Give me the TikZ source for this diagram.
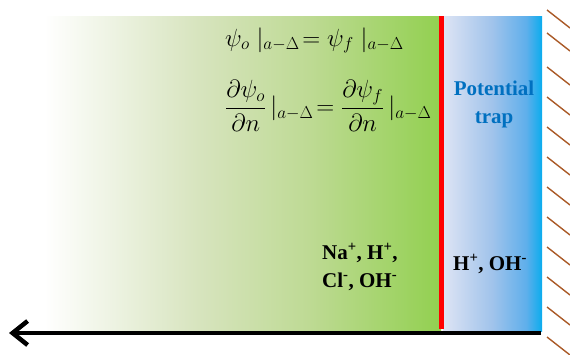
\documentclass[tikz,border=0pt]{standalone}
\usepackage{amsmath}
\usepackage{fontspec}
\setmainfont{Liberation Serif}
\usepackage{xcolor}
\usepackage{tikz}
\usetikzlibrary{arrows.meta,positioning,calc}
\definecolor{trapblue}{RGB}{0,112,192}
\definecolor{wallbrown}{RGB}{170,90,40}
\definecolor{leafgreen}{RGB}{146,208,80}
\pgfdeclarehorizontalshading{solfade}{100bp}{%
  color(0bp)=(white); color(25bp)=(white); color(30bp)=(white);
  color(47.5bp)=(rgb,255:red,215;green,228;blue,190);
  color(60bp)=(rgb,255:red,190;green,218;blue,148);
  color(75bp)=(leafgreen); color(100bp)=(leafgreen)}
\pgfdeclarehorizontalshading{trapfade}{100bp}{%
  color(0bp)=(rgb,255:red,222;green,228;blue,244);
  color(25bp)=(rgb,255:red,222;green,228;blue,244);
  color(50bp)=(rgb,255:red,160;green,195;blue,235);
  color(67bp)=(rgb,255:red,95;green,175;blue,235);
  color(75bp)=(rgb,255:red,10;green,172;blue,238);
  color(100bp)=(rgb,255:red,10;green,172;blue,238)}

\begin{document}
\begin{tikzpicture}[x=1pt, y=-1pt, font=\fontsize{20}{24}\selectfont, node distance=2pt,
    ions/.style={font=\fontsize{21}{28}\selectfont\bfseries, inner sep=0pt, align=left},
    eqn/.style={inner sep=0pt}]
  \useasboundingbox (0,0) rectangle (570,354);
  % solution and trap layers
  \path[shading=solfade] (0,16) rectangle (441,331);
  \path[shading=trapfade] (443,16) rectangle (542,331);
  \draw[red, line width=5pt] (441.5,16) -- (441.5,329);
  % wall
  \foreach \y in {10,33,67,97,127,157,187,217,247,277,307,337}
    \draw[wallbrown, line width=1.4pt] (547,\y) -- (570,\y+18);
  % axis
  \coordinate (axisR) at (541,333);
  \coordinate (axisL) at (9,333);
  \draw[line width=4.5pt, -{Straight Barb[length=15pt, width=24pt]}] (axisR) -- (axisL);
  % boundary conditions
  \node (bc1) [eqn, font=\fontsize{23.5}{28}\selectfont, anchor=base west] at (225,46)
    {$\psi_o\;|_{a-\Delta}\!=\psi_f\;|_{a-\Delta}$};
  \node (bc2) [eqn, font=\fontsize{25.5}{30}\selectfont, anchor=west] at (225,106)
    {$\dfrac{\partial\psi_o}{\partial n}\,|_{a-\Delta}\!=\dfrac{\partial\psi_f}{\partial n}\,|_{a-\Delta}$};
  % labels
  \node (trap) [font=\fontsize{21}{28}\selectfont\bfseries, text=trapblue, align=center,
                inner sep=0pt, anchor=base] at (494,123) {Potential\\trap};
  \node (bulk) [ions, anchor=base west] at (322,287)
    {Na\textsuperscript{+}, H\textsuperscript{+},\\Cl\textsuperscript{-}, OH\textsuperscript{-}};
  \node (film) [ions, anchor=base west] at (453,270) {H\textsuperscript{+}, OH\textsuperscript{-}};
\end{tikzpicture}
\end{document}
